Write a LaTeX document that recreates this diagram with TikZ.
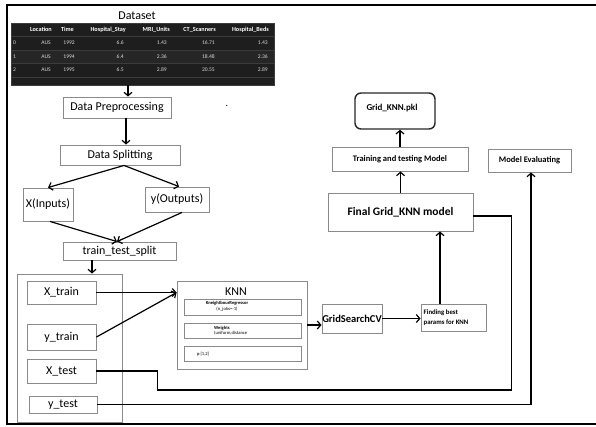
\documentclass[tikz,border=0pt]{standalone}
\usepackage{fontspec}
\setmainfont{Carlito}
\usetikzlibrary{arrows.meta}
\definecolor{tabbg}{HTML}{1E1E1E}
\definecolor{tabrow}{HTML}{262626}
\definecolor{tabline}{HTML}{3C3C3C}
\definecolor{boxline}{HTML}{8A8A8A}
\begin{document}
\begin{tikzpicture}[x=1pt,y=-1pt,
  box/.style={draw=boxline, line width=0.9pt, inner sep=0pt, font=\fontsize{12}{14}\selectfont},
  wire/.style={line width=1.2pt, black},
  arr/.style={wire, -{Straight Barb[length=3.5pt,width=8pt,line width=1.2pt]}},
  cell/.style={text=white!85!black, font=\fontsize{5.6}{6.5}\selectfont, inner sep=0pt, anchor=east},
  hcell/.style={cell, text=white, font=\fontsize{6.2}{7}\selectfont\bfseries},
  bsmall/.style={font=\fontsize{8.5}{10}\selectfont\bfseries},
  tiny/.style={font=\fontsize{4.6}{5.6}\selectfont, inner sep=0pt},
]
\useasboundingbox (0,0) rectangle (596,426);

% outer frame
\draw[line width=2pt] (598,5) -- (7,5) -- (7,424) -- (598,424);

% dataset preview
\node[font=\fontsize{12}{14}\selectfont] (dstitle) at (137,16) {Dataset};
\node[draw=tabline, fill=tabbg, minimum width=263pt, minimum height=62pt, inner sep=0pt] (table) at (142.5,54) {};
\fill[tabrow] (11.5,50) rectangle (273.5,63);
\foreach \yy in {36,50,63,77} \draw[tabline, line width=0.4pt] (11.5,\yy) -- (273.5,\yy);
% header
\node[hcell] (h1) at (52,29.5) {Location};
\node[hcell] (h2) at (74,29.5) {Time};
\node[hcell] (h3) at (126,29.5) {Hospital\_Stay};
\node[hcell] (h4) at (170,29.5) {MRI\_Units};
\node[hcell] (h5) at (216,29.5) {CT\_Scanners};
\node[hcell] (h6) at (269,29.5) {Hospital\_Beds};
% rows
\foreach \yy/\i/\yr/\hs/\mri/\ct/\hb in {43/0/1992/6.6/1.43/16.71/1.43, 56.5/1/1994/6.4/2.36/18.48/2.36, 70/2/1995/6.5/2.89/20.55/2.89}{
  \node[cell, anchor=west] at (13,\yy) {\i};
  \node[cell] at (51,\yy) {AUS};
  \node[cell] at (75,\yy) {\yr};
  \node[cell] at (124,\yy) {\hs};
  \node[cell] at (167,\yy) {\mri};
  \node[cell] at (215,\yy) {\ct};
  \node[cell] at (268,\yy) {\hb};
}

% stray mark
\node[font=\fontsize{10}{12}\selectfont, inner sep=0pt] (dot) at (227,106) {.};

% left column of processing steps
\node[box, minimum width=108pt, minimum height=21pt] (prep) at (117,107.5) {Data Preprocessing};
\node[box, minimum width=120pt, minimum height=20pt] (split) at (120,155) {Data Splitting};
\node[box, minimum width=50pt, minimum height=33pt] (xin) at (48,204.5) {X(Inputs)};
\node[box, minimum width=64pt, minimum height=25pt] (yout) at (177,199.5) {y(Outputs)};
\node[box, minimum width=113pt, minimum height=18pt] (tts) at (119.5,251) {train\_test\_split};

% split parts
\node[box, minimum width=105pt, minimum height=148pt] (parts) at (69.5,348) {};
\node[box, minimum width=69pt, minimum height=23pt] (xtrain) at (61.5,292.5) {X\_train};
\node[box, minimum width=69pt, minimum height=26pt] (ytrain) at (61.5,337) {y\_train};
\node[box, minimum width=69pt, minimum height=24pt] (xtest) at (61.5,371) {X\_test};
\node[box, minimum width=68pt, minimum height=17pt] (ytest) at (63,404.5) {y\_test};

% KNN block
\node[box, minimum width=130pt, minimum height=88pt] (knn) at (242,325) {};
\node[font=\fontsize{12}{14}\selectfont, inner sep=0pt] (knntitle) at (236,292) {KNN};
\node[box, minimum width=117pt, minimum height=16pt] (knn1) at (242.5,307) {};
\node[tiny, align=center] (knn1t) at (227,306.5) {\textbf{KneightbourRegressor}\\(n\_jobs=-1)};
\node[box, minimum width=117pt, minimum height=15pt] (knn2) at (242.5,330.5) {};
\node[tiny, align=left, anchor=west] (knn2t) at (214,330.5) {\textbf{Weights}\\(uniform,distance};
\node[box, minimum width=117pt, minimum height=15pt] (knn3) at (242.5,353.5) {};
\node[tiny] (knn3t) at (203,354) {p:[1,2]};

% search and final model
\node[box, minimum width=60pt, minimum height=29pt, font=\fontsize{10.5}{12}\selectfont\bfseries] (gscv) at (352,318.5) {GridSearchCV};
\node[box, minimum width=65pt, minimum height=27pt] (find) at (453.5,317.5) {};
\node[font=\fontsize{6.8}{9.5}\selectfont\bfseries, align=left, anchor=west, inner sep=0pt] (findt) at (423.5,317.5) {Finding best\\params for KNN};
\node[box, minimum width=145pt, minimum height=38pt, font=\fontsize{11.5}{13}\selectfont\bfseries] (final) at (400.5,212) {Final Grid\_KNN model};
\node[box, minimum width=136pt, minimum height=24pt, bsmall] (trainm) at (400,159) {Training and testing Model};
\node[draw=black!85, line width=1.4pt, rounded corners=6pt, minimum width=80pt, minimum height=36pt, inner sep=0pt] (pkl) at (395,111) {};
\node[font=\fontsize{9}{10}\selectfont\bfseries, inner sep=0pt] (pklt) at (392,108) {Grid\_KNN.pkl};
\node[box, minimum width=83pt, minimum height=23pt, bsmall] (eval) at (529.5,160.5) {Model Evaluating};

% connectors: preprocessing chain
\draw[arr] ([xshift=-14.5pt]table.south) -- ([xshift=11pt]prep.north);
\draw[arr] ([xshift=9pt]prep.south) -- ([xshift=6pt]split.north);
\draw[arr] ([xshift=4pt]split.south) -- (xin.north);
\draw[arr] ([xshift=4pt]split.south) -- ([xshift=2pt]yout.north);
\draw[arr] ([xshift=2pt]xin.south) -- ([xshift=-2.5pt]tts.north);
\draw[arr] ([xshift=5pt]yout.south) -- ([xshift=-2.5pt]tts.north);
\draw[arr] ([xshift=-27.5pt]tts.south) -- ([xshift=22.5pt]parts.north);

% connectors: training path
\draw[arr] (xtrain.east) -- (xtrain.east -| knn.west);
\draw[arr] (ytrain.east) -- (xtrain.east -| knn.west);
\draw[arr] (knn.east) -- (knn.east -| gscv.west);
\draw[arr] (gscv.east) -- (gscv.east -| find.west);
\coordinate (fup) at ([xshift=-13.5pt]find.north);
\draw[arr] (fup) -- (fup |- final.south);
\draw[arr] (final.north) -- (final.north |- trainm.south);
\draw[arr] (trainm.north) -- (trainm.north |- pkl.south);

% connectors: test data
\draw[wire] (xtest.east) -- ++(61,0) -- ++(0,19) -- ++(354,0) |- ([yshift=-4pt]final.east);
\draw[arr] (ytest.east) -| ([xshift=1.5pt]eval.south);
\end{tikzpicture}
\end{document}
